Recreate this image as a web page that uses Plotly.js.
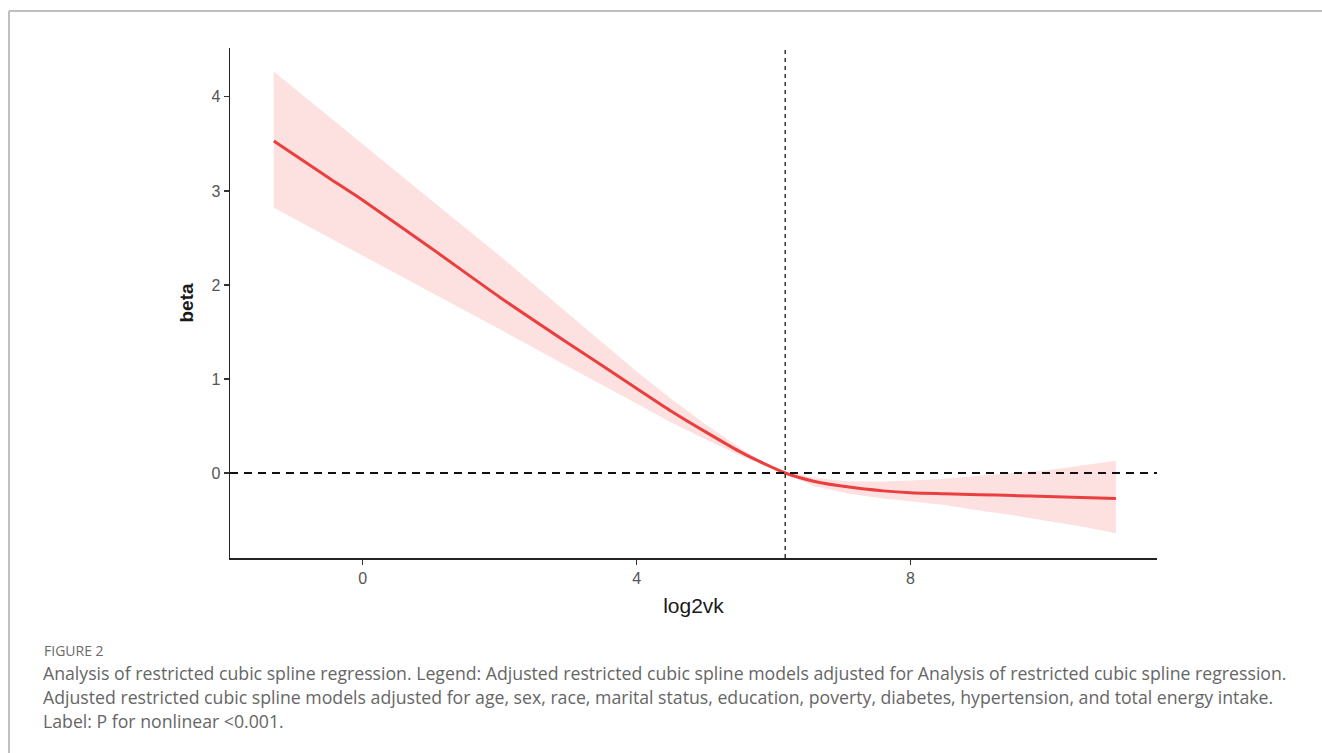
<!DOCTYPE html>
<html>
<head>
<meta charset="utf-8">
<script src="https://cdn.plot.ly/plotly-3.0.1.min.js"></script>
<style>html,body{margin:0;padding:0;background:#fff;}#chart{width:1322px;height:753px;}</style>
</head>
<body>
<div id="chart"></div>
<script>
// Data
const log2vk = [-1.3, -0.5, 0, 1, 2, 3, 4, 4.5, 5, 5.5, 5.8, 6.17, 6.6, 7.1, 7.6, 8, 8.5, 9, 9.5, 10, 10.5, 11];
const beta   = [3.53, 3.14, 2.90, 2.39, 1.87, 1.38, 0.90, 0.66, 0.44, 0.23, 0.12, 0.00, -0.09, -0.15, -0.19, -0.21, -0.22, -0.23, -0.24, -0.25, -0.26, -0.27];
const lower  = [2.82, 2.51, 2.31, 1.92, 1.53, 1.13, 0.74, 0.54, 0.36, 0.19, 0.10, -0.01, -0.14, -0.22, -0.27, -0.30, -0.34, -0.40, -0.45, -0.51, -0.57, -0.64];
const upper  = [4.27, 3.79, 3.50, 2.90, 2.31, 1.70, 1.08, 0.79, 0.52, 0.27, 0.14, 0.01, -0.05, -0.09, -0.09, -0.08, -0.06, -0.03, 0.00, 0.03, 0.08, 0.13];
const knot = 6.17;
const xTicks = [0, 4, 8];
const yTicks = [0, 1, 2, 3, 4];
const captionHead = "FIGURE 2";
const captionLines = [
  "Analysis of restricted cubic spline regression. Legend: Adjusted restricted cubic spline models adjusted for Analysis of restricted cubic spline regression.",
  "Adjusted restricted cubic spline models adjusted for age, sex, race, marital status, education, poverty, diabetes, hypertension, and total energy intake.",
  "Label: P for nonlinear <0.001."
];

const W = 1322, H = 753;
const mL = 230, mR = 165, mT = 48, mB = 195;
const pw = W - mL - mR, ph = H - mT - mB;
const px2paperX = px => (px - mL) / pw;
const py2paperY = py => (H - mB - py) / ph;

const traces = [
  {x: log2vk, y: lower, type: 'scatter', mode: 'lines', line: {width: 0, color: 'rgba(0,0,0,0)'}, hoverinfo: 'skip', showlegend: false},
  {x: log2vk, y: upper, type: 'scatter', mode: 'lines', fill: 'tonexty', fillcolor: 'rgba(251,205,205,0.6)', line: {width: 0, color: 'rgba(0,0,0,0)'}, hoverinfo: 'skip', showlegend: false},
  {x: log2vk, y: beta, type: 'scatter', mode: 'lines', line: {color: '#ea3f3f', width: 3, shape: 'spline', smoothing: 0.6}, showlegend: false}
];

const annotations = [
  {xref: 'paper', yref: 'paper', x: px2paperX(42), y: py2paperY(650), xanchor: 'left', yanchor: 'middle', showarrow: false,
   text: captionHead, font: {family: 'Open Sans, sans-serif', size: 14, color: '#6b6b6b'}}
];
const lineY = [673, 697, 721];
captionLines.forEach((t, i) => annotations.push({
  xref: 'paper', yref: 'paper', x: px2paperX(41), y: py2paperY(lineY[i]), xanchor: 'left', yanchor: 'middle', showarrow: false,
  text: t.replace(/</g, '&lt;'), font: {family: 'Open Sans, sans-serif', size: 17.7, color: '#666666'}
}));

const layout = {
  width: W, height: H,
  margin: {l: mL, r: mR, t: mT, b: mB, pad: 0},
  paper_bgcolor: '#ffffff', plot_bgcolor: '#ffffff',
  showlegend: false,
  xaxis: {
    range: [-1.94, 11.6], tickvals: xTicks, ticks: 'outside', ticklen: 5, tickcolor: '#333', tickwidth: 1.2,
    showline: true, linecolor: '#222', linewidth: 1.5, showgrid: false, zeroline: false,
    tickfont: {family: 'Liberation Sans, Arial, sans-serif', size: 16, color: '#555'},
    title: {text: 'log2vk', font: {family: 'Liberation Sans, Arial, sans-serif', size: 21, color: '#1a1a1a'}, standoff: 12}
  },
  yaxis: {
    range: [-0.904, 4.52], tickvals: yTicks, ticks: 'outside', ticklen: 5, tickcolor: '#333', tickwidth: 1.2,
    showline: true, linecolor: '#222', linewidth: 1.5, showgrid: false, zeroline: false,
    tickfont: {family: 'Liberation Sans, Arial, sans-serif', size: 16, color: '#555'},
    title: {text: '<b>beta</b>', font: {family: 'Liberation Sans, Arial, sans-serif', size: 19, color: '#1a1a1a'}, standoff: 12}
  },
  shapes: [
    {type: 'line', xref: 'paper', yref: 'y', x0: 0, x1: 1, y0: 0, y1: 0, line: {color: '#111', width: 2, dash: '8px,6px'}},
    {type: 'line', xref: 'x', yref: 'paper', x0: knot, x1: knot, y0: 0, y1: 1, line: {color: '#333', width: 1.5, dash: '4px,4px'}},
    {type: 'line', xref: 'paper', yref: 'paper', x0: px2paperX(9), x1: px2paperX(1322), y0: py2paperY(11), y1: py2paperY(11), line: {color: '#c0c0c0', width: 2}},
    {type: 'line', xref: 'paper', yref: 'paper', x0: px2paperX(9), x1: px2paperX(9), y0: py2paperY(11), y1: py2paperY(753), line: {color: '#c0c0c0', width: 2}}
  ],
  annotations: annotations
};

Plotly.newPlot('chart', traces, layout, {displayModeBar: false, staticPlot: true});
</script>
</body>
</html>
